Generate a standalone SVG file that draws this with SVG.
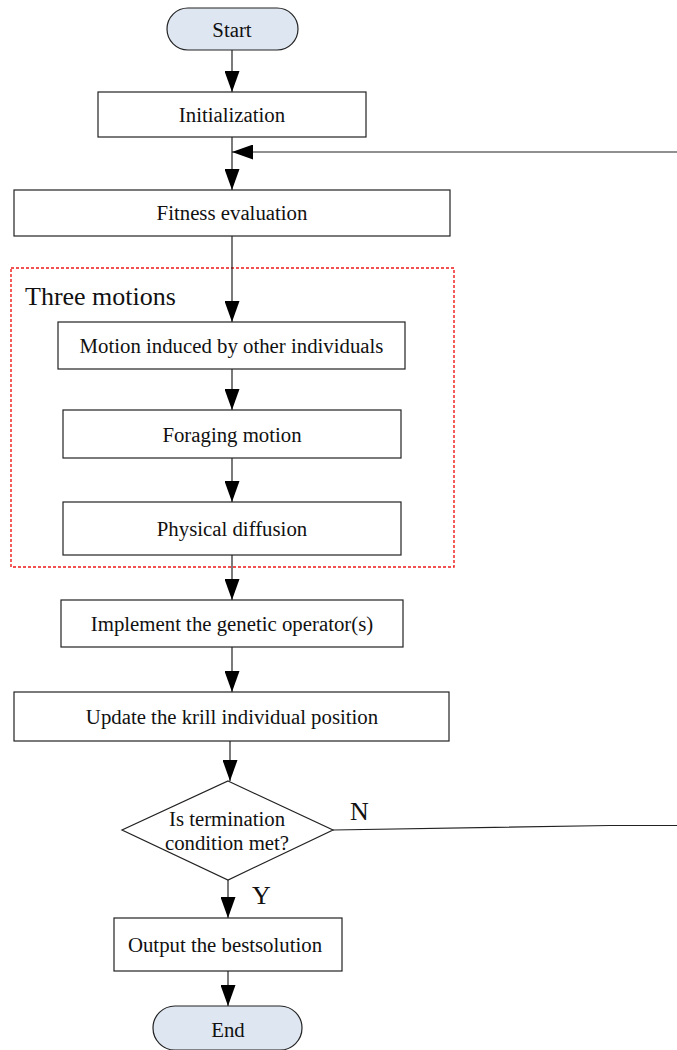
<svg xmlns="http://www.w3.org/2000/svg" width="677" height="1050" viewBox="0 0 677 1050">
<defs>
<marker id="ah" markerUnits="userSpaceOnUse" markerWidth="21" markerHeight="15" refX="21" refY="7.5" orient="auto">
<path d="M0,0 L21,7.5 L0,15 z" fill="#000"/>
</marker>
<style>
.box{fill:#fff;stroke:#222;stroke-width:1.2}
.term{fill:#dee6f1;stroke:#222;stroke-width:1.2}
.lbl{font-family:"Liberation Serif","Times New Roman",serif;font-size:20.8px;fill:#111;text-anchor:middle;dominant-baseline:central}
.big{font-family:"Liberation Serif","Times New Roman",serif;font-size:26px;fill:#111}
.ln{fill:none;stroke:#222;stroke-width:1.2}
.arr{fill:none;stroke:#222;stroke-width:1.2;marker-end:url(#ah)}
</style>
</defs>
<rect width="677" height="1050" fill="#fff"/>
<g id="group-three-motions">
<rect x="11" y="268" width="443" height="299" fill="none" stroke="#f01818" stroke-width="1.4" stroke-dasharray="3,2"/>
<text class="big" x="25" y="305">Three motions</text>
</g>
<g id="connectors">
<line class="arr" x1="232" y1="50" x2="232" y2="92"/>
<line class="arr" x1="232" y1="137" x2="232" y2="190"/>
<line class="arr" x1="677" y1="152" x2="232" y2="152"/>
<line class="arr" x1="232" y1="236" x2="232" y2="322"/>
<line class="arr" x1="232" y1="369" x2="232" y2="410"/>
<line class="arr" x1="232" y1="458" x2="232" y2="502"/>
<line class="arr" x1="232" y1="555" x2="232" y2="600"/>
<line class="arr" x1="232" y1="647" x2="232" y2="692"/>
<line class="arr" x1="230" y1="741" x2="230" y2="781"/>
<polyline class="ln" points="333,830 610,825.5 677,825.5"/>
<line class="arr" x1="228" y1="880" x2="228" y2="918"/>
<line class="arr" x1="228" y1="971" x2="228" y2="1006"/>
<text class="big" x="350" y="820" font-size="23">N</text>
<text class="big" x="252" y="904" font-size="23">Y</text>
</g>
<g id="start">
<rect class="term" x="167" y="8" width="131" height="42" rx="21" ry="21"/>
<text class="lbl" x="232" y="29">Start</text>
</g>
<g id="initialization">
<rect class="box" x="98" y="92" width="268" height="45"/>
<text class="lbl" x="232" y="114">Initialization</text>
</g>
<g id="fitness">
<rect class="box" x="14" y="190" width="436" height="46"/>
<text class="lbl" x="232" y="212">Fitness evaluation</text>
</g>
<g id="motion-induced">
<rect class="box" x="58" y="322" width="347" height="47"/>
<text class="lbl" x="231.5" y="345">Motion induced by other individuals</text>
</g>
<g id="foraging">
<rect class="box" x="63" y="410" width="338" height="48"/>
<text class="lbl" x="232" y="434">Foraging motion</text>
</g>
<g id="diffusion">
<rect class="box" x="63" y="502" width="338" height="53"/>
<text class="lbl" x="232" y="528">Physical diffusion</text>
</g>
<g id="genetic">
<rect class="box" x="61" y="600" width="342" height="47"/>
<text class="lbl" x="232" y="623">Implement the genetic operator(s)</text>
</g>
<g id="update">
<rect class="box" x="14" y="692" width="435" height="49"/>
<text class="lbl" x="232" y="716">Update the krill individual position</text>
</g>
<g id="decision">
<polygon class="box" points="228,781 333,830 228,880 122,830"/>
<text class="lbl" x="227" y="818">Is termination</text>
<text class="lbl" x="227" y="842">condition met?</text>
</g>
<g id="output">
<rect class="box" x="114" y="918" width="228" height="53"/>
<text class="lbl" x="225" y="944">Output the bestsolution</text>
</g>
<g id="end">
<rect class="term" x="153" y="1006" width="149" height="44" rx="22" ry="22"/>
<text class="lbl" x="228" y="1029">End</text>
</g>
</svg>
